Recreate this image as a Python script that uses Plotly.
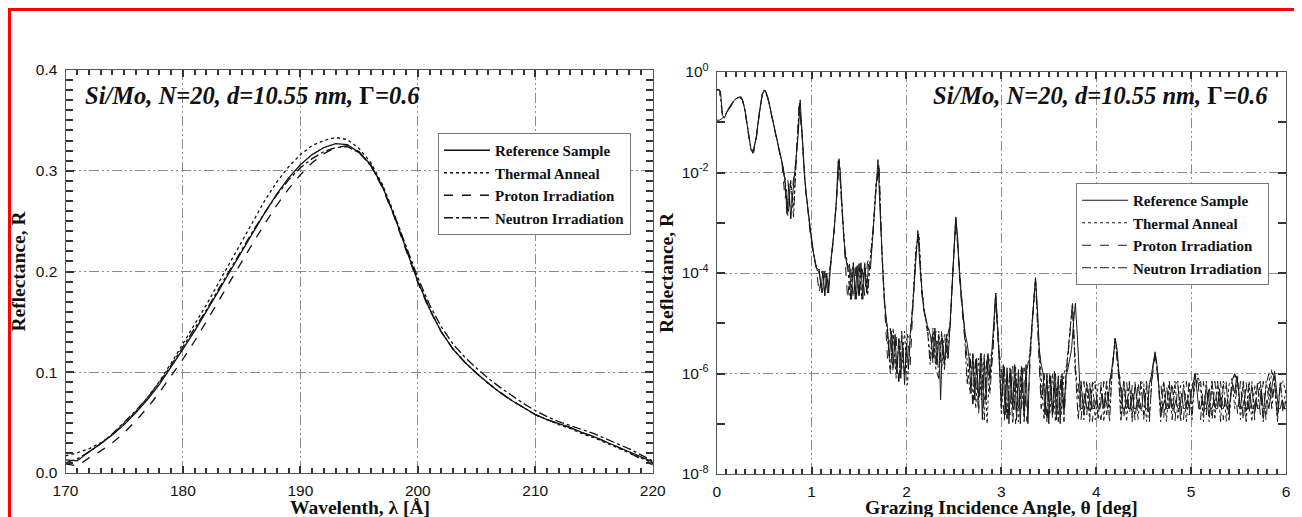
import numpy as np
import plotly.graph_objects as go

# ---------------- Left panel data: reflectance vs wavelength ----------------
wavelength = list(range(170, 221))
R_ref_wl = [0.013, 0.012, 0.021, 0.029, 0.038, 0.048, 0.060, 0.073, 0.088, 0.105,
            0.123, 0.141, 0.160, 0.180, 0.200, 0.220, 0.240, 0.259, 0.277, 0.293,
            0.306, 0.316, 0.323, 0.327, 0.326, 0.318, 0.306, 0.284, 0.255, 0.222,
            0.190, 0.163, 0.140, 0.123, 0.110, 0.099, 0.089, 0.080, 0.072, 0.065,
            0.058, 0.053, 0.049, 0.045, 0.040, 0.036, 0.031, 0.026, 0.021, 0.016, 0.011]
R_th_wl = [0.017, 0.020, 0.024, 0.030, 0.038, 0.049, 0.061, 0.075, 0.091, 0.109,
           0.128, 0.147, 0.167, 0.188, 0.209, 0.230, 0.251, 0.271, 0.289, 0.304,
           0.316, 0.325, 0.330, 0.333, 0.331, 0.322, 0.308, 0.286, 0.257, 0.224,
           0.191, 0.163, 0.140, 0.123, 0.110, 0.099, 0.089, 0.080, 0.072, 0.065,
           0.058, 0.053, 0.048, 0.044, 0.039, 0.035, 0.030, 0.025, 0.020, 0.015, 0.010]
R_pr_wl = [0.009, 0.007, 0.015, 0.022, 0.030, 0.040, 0.052, 0.065, 0.080, 0.096,
           0.113, 0.131, 0.150, 0.170, 0.190, 0.210, 0.229, 0.248, 0.266, 0.282,
           0.296, 0.308, 0.317, 0.323, 0.325, 0.319, 0.305, 0.283, 0.254, 0.221,
           0.189, 0.162, 0.140, 0.123, 0.110, 0.099, 0.089, 0.080, 0.072, 0.065,
           0.058, 0.053, 0.049, 0.045, 0.040, 0.036, 0.031, 0.026, 0.020, 0.014, 0.008]
R_ne_wl = [0.010, 0.014, 0.021, 0.029, 0.039, 0.050, 0.062, 0.075, 0.090, 0.107,
           0.125, 0.143, 0.162, 0.182, 0.202, 0.222, 0.241, 0.259, 0.276, 0.291,
           0.303, 0.312, 0.319, 0.323, 0.324, 0.318, 0.305, 0.284, 0.256, 0.225,
           0.194, 0.167, 0.145, 0.128, 0.115, 0.104, 0.094, 0.085, 0.077, 0.069,
           0.062, 0.056, 0.051, 0.047, 0.043, 0.039, 0.034, 0.029, 0.024, 0.018, 0.012]

# ---------------- Right panel data: reflectance vs grazing angle ----------------
theta_ref = np.round(np.arange(301) * 0.02, 2)   # scan grid 0..6 deg, 0.02 step
R_ref_th = [
    0.45, 0.45, 0.42, 0.14, 0.12, 0.15, 0.18, 0.21, 0.24, 0.27,
    0.29, 0.31, 0.32, 0.32, 0.25, 0.16, 0.09, 0.05, 0.03, 0.024,
    0.035, 0.055, 0.11, 0.22, 0.36, 0.44, 0.40, 0.30, 0.21, 0.14,
    0.09, 0.06, 0.04, 0.027, 0.018, 0.013, 0.007, 0.0015, 0.006, 0.0012,
    0.0035, 0.01, 0.02, 0.06, 0.28, 0.05, 0.012, 0.004, 0.002, 8e-4,
    4e-4, 2.5e-4, 1.6e-4, 1.1e-4, 1.2e-4, 5e-5, 1.1e-4, 3.5e-5, 1e-4, 4e-5,
    1.4e-4, 3e-4, 8e-4, 2.5e-3, 0.017, 0.012, 2e-3, 5e-4, 2e-4, 1.2e-4,
    1.5e-4, 3e-5, 1.6e-4, 3e-5, 1.4e-4, 3.5e-5, 1.6e-4, 3e-5, 1.5e-4, 4e-5,
    1.5e-4, 1.2e-4, 4e-4, 1.5e-3, 6e-3, 0.018, 2e-3, 3e-4, 5e-5, 1.5e-5,
    8e-6, 2e-6, 7e-6, 1.5e-6, 6e-6, 1e-6, 5e-6, 8e-7, 4e-6, 6e-7,
    4e-6, 1.2e-6, 6e-6, 1.5e-5, 6e-5, 3e-4, 7e-4, 1.5e-4, 5e-5, 2e-5,
    1.4e-5, 9e-6, 7e-6, 5e-6, 2e-6, 8e-6, 1.5e-6, 6e-6, 3e-7, 5e-6,
    1.5e-6, 6e-6, 2e-6, 9e-6, 6e-5, 3e-4, 1.3e-3, 5e-4, 8e-5, 3e-5,
    1.2e-5, 6e-6, 4e-6, 2e-6, 4e-7, 2.5e-6, 3e-7, 2e-6, 3e-7, 2.5e-6,
    1.2e-7, 2e-6, 3e-7, 2.5e-6, 8e-7, 2.5e-6, 1e-5, 4e-5, 1e-5, 1.5e-6,
    2e-7, 1.5e-6, 1.5e-7, 1.3e-6, 1e-7, 1.2e-6, 2e-7, 1.5e-6, 1.2e-7, 1.2e-6,
    1e-7, 1.3e-6, 1.5e-7, 1.5e-6, 1e-7, 2e-6, 8e-6, 3e-5, 8e-5, 2e-5,
    3e-6, 1.5e-6, 1e-6, 1.5e-7, 1e-6, 1e-7, 9e-7, 1.5e-7, 1.1e-6, 1.2e-7,
    9e-7, 1e-7, 1e-6, 1.5e-7, 9e-7, 1.2e-6, 2e-6, 3e-6, 1e-5, 2.5e-5,
    6e-6, 8e-7, 2e-7, 2e-7, 4e-7, 2e-7, 2e-7, 5e-7, 2e-7, 2e-7,
    3e-7, 2e-7, 2e-7, 4e-7, 2e-7, 3e-7, 2e-7, 6e-7, 1e-6, 2e-6,
    5e-6, 3e-6, 1e-6, 4e-7, 2e-7, 2e-7, 3e-7, 2e-7, 2e-7, 4e-7,
    2e-7, 2e-7, 3e-7, 2e-7, 2e-7, 5e-7, 2e-7, 2e-7, 6e-7, 9e-7,
    1.6e-6, 2.7e-6, 1.5e-6, 6e-7, 2e-7, 2e-7, 3e-7, 2e-7, 2e-7, 4e-7,
    2e-7, 2e-7, 3e-7, 2e-7, 2e-7, 4e-7, 2e-7, 2e-7, 3e-7, 2e-7,
    4e-7, 6e-7, 1e-6, 5e-7, 2e-7, 2e-7, 3e-7, 2e-7, 2e-7, 4e-7,
    2e-7, 2e-7, 3e-7, 2e-7, 2e-7, 5e-7, 2e-7, 2e-7, 3e-7, 2e-7,
    2e-7, 4e-7, 6e-7, 4e-7, 9e-7, 5e-7, 2e-7, 2e-7, 3e-7, 2e-7,
    2e-7, 4e-7, 2e-7, 2e-7, 3e-7, 2e-7, 2e-7, 5e-7, 2e-7, 2e-7,
    3e-7, 2e-7, 4e-7, 7e-7, 1.1e-6, 5e-7, 2e-7, 2e-7, 3e-7, 2e-7,
    2e-7]

theta_other = np.round(np.arange(201) * 0.03, 2)  # scan grid 0..6 deg, 0.03 step
R_th_th = [
    0.45, 0.44, 0.15, 0.14, 0.18, 0.22, 0.26, 0.30, 0.32, 0.29,
    0.17, 0.07, 0.03, 0.026, 0.055, 0.16, 0.37, 0.44, 0.30, 0.17,
    0.09, 0.05, 0.027, 0.015, 0.008, 0.0014, 0.006, 0.002, 0.02, 0.22,
    0.06, 0.007, 0.002, 6e-4, 2.5e-4, 1.3e-4, 1.1e-4, 4e-5, 1.1e-4, 4e-5,
    1.5e-4, 5e-4, 2.5e-3, 0.019, 2e-3, 3e-4, 1.5e-4, 3e-5, 1.6e-4, 3e-5,
    1.5e-4, 3e-5, 1.6e-4, 4e-5, 2e-4, 8e-4, 6e-3, 0.014, 3e-4, 2.5e-5,
    5e-6, 1.2e-6, 8e-6, 8e-7, 5e-6, 1.2e-6, 7e-6, 6e-7, 5e-6, 3e-5,
    3e-4, 6e-4, 5e-5, 1.7e-5, 9e-6, 2e-6, 8e-6, 1.5e-6, 7e-6, 1.2e-6,
    6e-6, 2e-6, 9e-6, 1.3e-4, 1.2e-3, 2e-4, 3e-5, 8e-6, 1.5e-6, 4e-7,
    2.5e-6, 2e-7, 2e-6, 3e-7, 2.5e-6, 1e-7, 2e-6, 3e-6, 4e-5, 4e-6,
    1.5e-7, 1.4e-6, 1.2e-7, 1.2e-6, 2e-7, 1.4e-6, 1.1e-7, 1e-6, 1.5e-7, 1.3e-6,
    2e-6, 1.5e-5, 8e-5, 6e-6, 8e-7, 1.2e-7, 9e-7, 1.5e-7, 1e-6, 1.1e-7,
    8e-7, 1.5e-7, 1e-6, 1.5e-6, 6e-6, 2.5e-5, 1.5e-6, 3e-7, 6e-7, 1.2e-7,
    6e-7, 1.5e-7, 7e-7, 1.2e-7, 6e-7, 7e-7, 1.1e-7, 6e-7, 2e-7, 1.5e-6,
    5e-6, 1.5e-6, 2e-7, 7e-7, 1.1e-7, 6e-7, 1.5e-7, 7e-7, 1.2e-7, 6e-7,
    7e-7, 1.1e-7, 6e-7, 1e-6, 2.5e-6, 1e-6, 1.5e-7, 7e-7, 1.1e-7, 6e-7,
    2e-7, 7e-7, 1.2e-7, 6e-7, 7e-7, 1.1e-7, 6e-7, 2e-7, 8e-7, 1e-6,
    5e-7, 1.1e-7, 7e-7, 1.5e-7, 7e-7, 1.2e-7, 6e-7, 2e-7, 7e-7, 1.1e-7,
    6e-7, 8e-7, 2e-7, 9e-7, 1.2e-7, 7e-7, 1.5e-7, 7e-7, 1.1e-7, 6e-7,
    2e-7, 7e-7, 1.2e-7, 7e-7, 3e-7, 1.2e-6, 6e-7, 1.5e-7, 7e-7, 2e-7,
    5e-7]
R_pr_th = [
    0.44, 0.43, 0.14, 0.13, 0.17, 0.21, 0.25, 0.29, 0.31, 0.28,
    0.16, 0.065, 0.028, 0.025, 0.05, 0.15, 0.35, 0.43, 0.29, 0.16,
    0.085, 0.048, 0.026, 0.014, 0.003, 0.007, 0.0012, 0.008, 0.018, 0.21,
    0.055, 0.006, 0.0018, 5e-4, 2.3e-4, 1.2e-4, 4e-5, 1.1e-4, 3.5e-5, 1e-4,
    1.3e-4, 4.5e-4, 2.3e-3, 0.017, 1.8e-3, 2.5e-4, 3e-5, 1.5e-4, 3e-5, 1.6e-4,
    3e-5, 1.5e-4, 3.5e-5, 1.7e-4, 1.8e-4, 7e-4, 5e-3, 0.013, 2.5e-4, 2e-5,
    2e-6, 8e-6, 1e-6, 6e-6, 6e-7, 5e-6, 1e-6, 6e-6, 1.5e-6, 2.5e-5,
    2.5e-4, 5e-4, 4e-5, 1.5e-5, 7e-6, 8e-6, 1.5e-6, 7e-6, 8e-7, 5e-6,
    1.5e-6, 7e-6, 7e-6, 1.2e-4, 1.1e-3, 1.8e-4, 2.5e-5, 6e-6, 2e-6, 2.2e-6,
    2e-7, 2.2e-6, 1.5e-7, 2e-6, 3e-7, 2.5e-6, 8e-7, 2.5e-6, 3.5e-5, 3e-6,
    1.4e-6, 1.1e-7, 1.2e-6, 1.5e-7, 1.4e-6, 1e-7, 1e-6, 2e-7, 1.3e-6, 1.1e-7,
    1.5e-6, 1.3e-5, 7e-5, 5e-6, 2e-7, 1e-6, 1.1e-7, 8e-7, 1.2e-7, 1e-6,
    1.5e-7, 9e-7, 1.1e-7, 1.2e-6, 5e-6, 2.2e-5, 1e-6, 7e-7, 1.2e-7, 7e-7,
    1.5e-7, 7e-7, 1.1e-7, 6e-7, 2e-7, 1.2e-7, 7e-7, 1.5e-7, 7e-7, 1.2e-6,
    4.5e-6, 1.2e-6, 7e-7, 1.2e-7, 7e-7, 1.5e-7, 6e-7, 1.1e-7, 7e-7, 2e-7,
    1.2e-7, 7e-7, 1.5e-7, 8e-7, 2.2e-6, 8e-7, 7e-7, 1.2e-7, 6e-7, 2e-7,
    7e-7, 1.1e-7, 6e-7, 1.5e-7, 1.2e-7, 7e-7, 1.5e-7, 7e-7, 4e-7, 9e-7,
    1.2e-7, 7e-7, 1.5e-7, 6e-7, 1.1e-7, 7e-7, 2e-7, 7e-7, 1.2e-7, 6e-7,
    1.5e-7, 7e-7, 1e-6, 1.5e-7, 7e-7, 1.1e-7, 7e-7, 1.5e-7, 6e-7, 1.2e-7,
    7e-7, 1.5e-7, 7e-7, 1.1e-7, 7e-7, 3e-7, 9e-7, 1.2e-7, 7e-7, 1.5e-7,
    3e-7]
R_ne_th = [
    0.11, 0.11, 0.12, 0.14, 0.18, 0.22, 0.26, 0.30, 0.32, 0.29,
    0.17, 0.07, 0.03, 0.027, 0.056, 0.16, 0.36, 0.44, 0.31, 0.17,
    0.09, 0.05, 0.027, 0.015, 0.006, 0.0016, 0.007, 0.0013, 0.02, 0.24,
    0.06, 0.007, 0.002, 6e-4, 2.5e-4, 1.3e-4, 1e-4, 4e-5, 1.1e-4, 4e-5,
    1.6e-4, 5e-4, 2.6e-3, 0.018, 2e-3, 3e-4, 1.4e-4, 3e-5, 1.5e-4, 3e-5,
    1.6e-4, 3e-5, 1.4e-4, 3.5e-5, 2e-4, 8e-4, 6e-3, 0.014, 3e-4, 2.5e-5,
    7e-6, 1e-6, 6e-6, 1.5e-6, 7e-7, 7e-6, 9e-7, 5e-6, 6e-6, 3e-5,
    3e-4, 6e-4, 5e-5, 1.6e-5, 8e-6, 1.5e-6, 7e-6, 1.2e-6, 8e-7, 7e-6,
    1.2e-6, 5e-6, 1e-5, 1.3e-4, 1.3e-3, 2e-4, 3e-5, 7e-6, 6e-7, 2.5e-6,
    3e-7, 2e-6, 2e-7, 2.5e-6, 1.2e-7, 2e-6, 4e-7, 3e-6, 4e-5, 5e-6,
    3e-7, 1.4e-6, 1.2e-7, 1.3e-6, 1e-7, 1e-6, 2e-7, 1.4e-6, 1.1e-7, 1.2e-6,
    2.5e-6, 1.5e-5, 8e-5, 6e-6, 3e-7, 9e-7, 1.1e-7, 1e-6, 1.5e-7, 8e-7,
    1.1e-7, 9e-7, 2e-7, 1.5e-6, 6e-6, 2.5e-5, 1.2e-6, 1.2e-7, 7e-7, 1.5e-7,
    7e-7, 1.1e-7, 6e-7, 7e-7, 1.2e-7, 6e-7, 2e-7, 7e-7, 1.1e-7, 1.3e-6,
    5e-6, 1.3e-6, 1.1e-7, 7e-7, 2e-7, 7e-7, 1.1e-7, 6e-7, 2e-7, 7e-7,
    1.5e-7, 6e-7, 1.1e-7, 1.1e-6, 2.6e-6, 9e-7, 1.1e-7, 7e-7, 2e-7, 7e-7,
    1.2e-7, 6e-7, 7e-7, 1.1e-7, 6e-7, 2e-7, 7e-7, 1.2e-7, 1e-6, 6e-7,
    7e-7, 1.5e-7, 6e-7, 1.1e-7, 7e-7, 2e-7, 7e-7, 1.1e-7, 6e-7, 7e-7,
    1.1e-7, 7e-7, 1e-6, 6e-7, 2e-7, 7e-7, 1.1e-7, 6e-7, 7e-7, 1.5e-7,
    6e-7, 7e-7, 1.1e-7, 6e-7, 1e-6, 2e-7, 7e-7, 1.1e-7, 6e-7, 7e-7,
    4e-7]

assert len(R_ref_th) == len(theta_ref), len(R_ref_th)
for arr in (R_th_th, R_pr_th, R_ne_th):
    assert len(arr) == len(theta_other), len(arr)

series_names = ["Reference Sample", "Thermal Anneal", "Proton Irradiation", "Neutron Irradiation"]
series_dash = ["solid", "dot", "dash", "dashdot"]
panel_title = "<b><i>Si/Mo, N=20, d=10.55 nm, </i>Γ<i>=0.6</i></b>"

# tick positions (small ticks everywhere, labels and grid only on the main ones)
wl_ticks = list(range(170, 221))
wl_major = [170, 180, 190, 200, 210, 220]
wl_text = [str(v) if v in wl_major else "" for v in wl_ticks]
r_ticks = [round(0.01 * i, 2) for i in range(41)]
r_major = [0.0, 0.1, 0.2, 0.3, 0.4]
r_text = [f"{v:.1f}" if v in r_major else "" for v in r_ticks]
th_ticks = [round(0.1 * i, 1) for i in range(61)]
th_major = [0, 1, 2, 3, 4, 5, 6]
th_text = [str(int(v)) if v in th_major else "" for v in th_ticks]
log_ticks = [10.0 ** -k for k in range(9)]
log_major = [1, 1e-2, 1e-4, 1e-6, 1e-8]
log_text = ["10<sup>0</sup>", "", "10<sup>-2</sup>", "", "10<sup>-4</sup>", "",
            "10<sup>-6</sup>", "", "10<sup>-8</sup>"]

# ---------------- Figure ----------------
# The page body has an 8 px margin, so figure pixel = page pixel - 8.
W, H = 1302, 517
OFF = 8
ML, MR, MT, MB = 57, 24, 62, 51
PW, PH = W - ML - MR, H - MT - MB


def clamp(v):
    return min(1.0, max(0.0, v))


def px_x(page_px):
    return (page_px - OFF - ML) / PW


def px_y(page_py):
    return (H - MB - (page_py - OFF)) / PH


fig = go.Figure()

left_y = [R_ref_wl, R_th_wl, R_pr_wl, R_ne_wl]
for name, dash, yv in zip(series_names, series_dash, left_y):
    fig.add_trace(go.Scatter(x=wavelength, y=yv, mode="lines", name=name,
                             line=dict(color="#111111", width=1.3, dash=dash),
                             xaxis="x", yaxis="y", legend="legend"))

right_x = [theta_ref, theta_other, theta_other, theta_other]
right_y = [R_ref_th, R_th_th, R_pr_th, R_ne_th]
for name, dash, xv, yv in zip(series_names, series_dash, right_x, right_y):
    fig.add_trace(go.Scatter(x=xv, y=yv, mode="lines", name=name,
                             line=dict(color="#1a1a1a", width=1.0, dash=dash),
                             xaxis="x2", yaxis="y2", legend="legend2"))

tickfont = dict(family="Liberation Sans", size=15.5, color="#111")
titlefont = dict(family="Liberation Serif", size=19.5, color="#111")
griddash = "10px,3px,2px,3px,2px,3px"
axis_common = dict(showline=True, linecolor="#555", linewidth=1, mirror="allticks",
                   ticks="inside", tickcolor="#333", tickwidth=2, showgrid=False,
                   zeroline=False, tickfont=tickfont, automargin=False, tickmode="array",
                   layer="above traces")


def grid_minor(vals, ln):
    return dict(tickmode="array", tickvals=vals, ticks="inside", ticklen=ln,
                tickcolor="#333", tickwidth=2, showgrid=True, gridcolor="#8c8c8c",
                gridwidth=1, griddash=griddash)


legend_font = dict(family="Liberation Serif", size=15, color="#111", weight="bold")

fig.update_layout(
    width=W, height=H,
    margin=dict(l=ML, r=MR, t=MT, b=MB, autoexpand=False),
    paper_bgcolor="white", plot_bgcolor="white",
    showlegend=True,
    xaxis=dict(domain=[clamp(px_x(65.5)), clamp(px_x(652.7))], range=[170, 220],
               tickvals=wl_ticks, ticktext=wl_text, ticklen=5, ticklabelstandoff=3,
               minor=grid_minor(wl_major, 7), anchor="y", **axis_common),
    yaxis=dict(domain=[clamp(px_y(473)), clamp(px_y(70))], range=[0, 0.4],
               tickvals=r_ticks, ticktext=r_text, ticklen=7, ticklabelstandoff=4,
               minor=grid_minor(r_major, 8),
               title=dict(text="<b>Reflectance, R</b>", font=titlefont, standoff=6),
               anchor="x", **axis_common),
    xaxis2=dict(domain=[clamp(px_x(716.7)), clamp(px_x(1286))], range=[0, 6],
                tickvals=th_ticks, ticktext=th_text, ticklen=5, ticklabelstandoff=3,
                minor=grid_minor(th_major, 7), anchor="y2", **axis_common),
    yaxis2=dict(domain=[clamp(px_y(474)), clamp(px_y(72))], type="log", range=[-8, 0],
                tickvals=log_ticks, ticktext=log_text, ticklen=8, ticklabelstandoff=4,
                minor=grid_minor(log_major, 8),
                title=dict(text="<b>Reflectance, R</b>", font=titlefont, standoff=2),
                anchor="x2", **axis_common),
    legend=dict(x=px_x(438), y=px_y(133), xanchor="left", yanchor="top",
                bgcolor="white", bordercolor="#7a7a7a", borderwidth=1,
                font=legend_font, tracegroupgap=0, itemwidth=46),
    legend2=dict(x=px_x(1076), y=px_y(183), xanchor="left", yanchor="top",
                 bgcolor="white", bordercolor="#7a7a7a", borderwidth=1,
                 font=legend_font, tracegroupgap=0, itemwidth=46),
    annotations=[
        dict(text=panel_title, xref="paper", yref="paper", x=px_x(83), y=px_y(96),
             xanchor="left", yanchor="middle", showarrow=False,
             font=dict(family="Liberation Serif", size=24.5, color="#111")),
        dict(text=panel_title, xref="paper", yref="paper", x=px_x(1270), y=px_y(95),
             xanchor="right", yanchor="middle", showarrow=False,
             font=dict(family="Liberation Serif", size=24.5, color="#111")),
        dict(text="<b>Wavelenth, λ [Å]</b>", xref="paper", yref="paper",
             x=px_x(360), y=px_y(507), xanchor="center", yanchor="middle",
             showarrow=False, font=titlefont),
        dict(text="<b>Grazing Incidence Angle, θ [deg]</b>", xref="paper", yref="paper",
             x=px_x(1001), y=px_y(507), xanchor="center", yanchor="middle",
             showarrow=False, font=titlefont),
    ],
    shapes=[
        dict(type="line", xref="paper", yref="paper", x0=px_x(9.5), x1=px_x(9.5),
             y0=px_y(540), y1=px_y(9.5), line=dict(color="#ff0000", width=3)),
        dict(type="line", xref="paper", yref="paper", x0=px_x(8), x1=px_x(1330),
             y0=px_y(9.5), y1=px_y(9.5), line=dict(color="#ff0000", width=3)),
    ],
)

fig.write_html("out.html")
